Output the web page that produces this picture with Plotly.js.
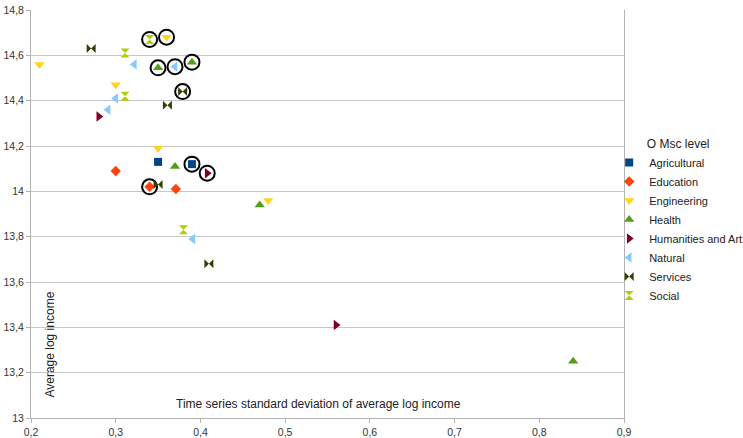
<!DOCTYPE html>
<html>
<head>
<meta charset="utf-8">
<script src="https://cdn.plot.ly/plotly-3.0.1.min.js"></script>
<style>html,body{margin:0;padding:0;background:#fff;}#chart{width:743px;height:438px;}</style>
</head>
<body>
<div id="chart"></div>
<script>
// Series names
const seriesNames = ["Agricultural","Education","Engineering","Health","Humanities and Art","Natural","Services","Social"];

// Values (x: time series std dev, y: average log income)
const agriculturalX = [0.35, 0.39];
const agriculturalY = [14.13, 14.12];
const educationX = [0.30, 0.34, 0.371];
const educationY = [14.09, 14.02, 14.01];
const engineeringX = [0.21, 0.30, 0.35, 0.36, 0.48];
const engineeringY = [14.56, 14.47, 14.19, 14.68, 13.96];
const healthX = [0.37, 0.35, 0.39, 0.47, 0.84];
const healthY = [14.11, 14.545, 14.57, 13.94, 13.25];
const humanitiesX = [0.28, 0.408, 0.56];
const humanitiesY = [14.33, 14.08, 13.41];
const naturalX = [0.322, 0.291, 0.30, 0.37, 0.391];
const naturalY = [14.56, 14.36, 14.41, 14.55, 13.79];
const servicesX = [0.271, 0.361, 0.379, 0.41, 0.35];
const servicesY = [14.63, 14.38, 14.44, 13.68, 14.03];
const socialX = [0.311, 0.311, 0.34, 0.38];
const socialY = [14.61, 14.42, 14.67, 13.83];

// Points marked as Msc level (circled)
const mscX = [0.34, 0.36, 0.35, 0.37, 0.39, 0.379, 0.39, 0.408, 0.34];
const mscY = [14.67, 14.68, 14.545, 14.55, 14.57, 14.44, 14.12, 14.08, 14.02];

// Axis tick values
const xTicks = [0.2, 0.3, 0.4, 0.5, 0.6, 0.7, 0.8, 0.9];
const yTicks = [13, 13.2, 13.4, 13.6, 13.8, 14, 14.2, 14.4, 14.6, 14.8];

const seriesX = [agriculturalX, educationX, engineeringX, healthX, humanitiesX, naturalX, servicesX, socialX];
const seriesY = [agriculturalY, educationY, engineeringY, healthY, humanitiesY, naturalY, servicesY, socialY];
const colors = ["#004586","#ff420e","#ffd320","#579d1c","#7e0021","#83caff","#314004","#aecf00"];
const symbols = ["square","diamond","triangle-down","triangle-up","triangle-right","triangle-left","bowtie","hourglass"];
const sizes = [8, 8, 9, 9, 9, 9, 9, 9];

const traces = [];
traces.push({
  type: "scatter", mode: "markers", x: mscX, y: mscY, name: "Msc level",
  showlegend: false, hoverinfo: "skip",
  marker: {symbol: "circle", size: 15, color: "rgba(255,255,255,1)", line: {color: "#000", width: 2}}
});
seriesNames.forEach((n, i) => {
  traces.push({
    type: "scatter", mode: "markers", name: n, x: seriesX[i], y: seriesY[i],
    marker: {symbol: symbols[i], size: sizes[i], color: colors[i], line: {width: 0}}
  });
});

const layout = {
  width: 743, height: 438,
  margin: {l: 31, r: 119, t: 10, b: 20, autoexpand: false},
  paper_bgcolor: "#fff", plot_bgcolor: "#fff",
  separators: ", ",
  font: {family: "Liberation Sans, Arial, sans-serif", size: 11, color: "#333"},
  showlegend: true,
  legend: {
    x: 0.975, xanchor: "left", y: 0.70, yanchor: "top",
    font: {size: 11, color: "#222"},
    title: {text: "O Msc level", side: "top center", font: {size: 12, color: "#222"}},
    itemwidth: 30, bgcolor: "rgba(0,0,0,0)", borderwidth: 0
  },
  xaxis: {
    range: [0.2, 0.9], tickvals: xTicks, showgrid: false, zeroline: false,
    showline: true, linecolor: "#b3b3b3", linewidth: 1,
    ticks: "outside", ticklen: 4, tickcolor: "#b3b3b3",
    tickfont: {size: 10.5, color: "#333"}
  },
  yaxis: {
    range: [13, 14.8], tickvals: yTicks, showgrid: true, gridcolor: "#c6c6c6", zeroline: false,
    showline: true, mirror: true, linecolor: "#b3b3b3", linewidth: 1,
    ticks: "outside", ticklen: 4, tickcolor: "#b3b3b3",
    tickfont: {size: 10.5, color: "#333"}
  },
  annotations: [
    {text: "Time series standard deviation of average log income", xref: "paper", yref: "paper",
     x: 0.484, y: 0.035, xanchor: "center", yanchor: "middle", showarrow: false,
     font: {size: 12, color: "#222"}},
    {text: "Average log income", xref: "paper", yref: "paper",
     x: 0.032, y: 0.18, xanchor: "center", yanchor: "middle", showarrow: false, textangle: -90,
     font: {size: 12, color: "#222"}}
  ]
};

Plotly.newPlot("chart", traces, layout, {displayModeBar: false, staticPlot: true});
</script>
</body>
</html>
